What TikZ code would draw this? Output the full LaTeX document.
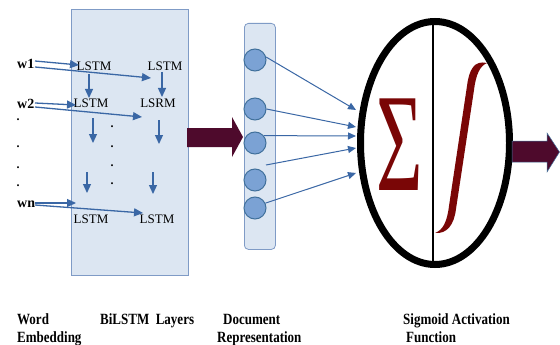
\documentclass[tikz,border=0pt]{standalone}
\usepackage{fontspec}
\setmainfont{Liberation Serif}
\usetikzlibrary{arrows.meta,shapes.geometric}
\definecolor{boxfill}{HTML}{DCE6F2}
\definecolor{boxline}{HTML}{7F9BC6}
\definecolor{arrowblue}{HTML}{3A67A5}
\definecolor{nodefill}{HTML}{7BA2D4}
\definecolor{nodeline}{HTML}{41719C}
\definecolor{darkmaroon}{HTML}{4E0A2C}
\definecolor{sigred}{HTML}{7A0606}
\tikzset{
  panel/.style={draw=boxline, fill=boxfill, line width=0.8pt, inner sep=0pt, anchor=north west},
  lstm/.style={font=\fontsize{13}{13}\selectfont, inner sep=0pt},
  word/.style={font=\bfseries\fontsize{14}{14}\selectfont, inner sep=0pt, anchor=base west},
  flow/.style={draw=arrowblue, line width=1.3pt, -{Triangle[length=9pt,width=8pt]}},
  feed/.style={draw=arrowblue, line width=1pt, -{Triangle[length=8pt,width=7pt]}},
  neuron/.style={circle, draw=nodeline, fill=nodefill, line width=1pt, minimum size=22pt, inner sep=0pt},
  caption/.style={font=\bfseries\fontsize{13}{13}\selectfont, inner sep=0pt, anchor=base west},
  dotmark/.style={font=\bfseries\fontsize{12}{12}\selectfont, inner sep=0pt, anchor=base},
  bigarrow/.style={fill=darkmaroon, draw=nodeline, line width=0.5pt},
}
\newcommand{\tallt}[1]{\scalebox{1}[1.2]{#1}}
\begin{document}
\begin{tikzpicture}[x=1pt,y=-1pt]
\useasboundingbox (0,0) rectangle (560,345);
\fill[white] (0,0) rectangle (560,345);

% BiLSTM panel
\node[panel, minimum width=117pt, minimum height=266pt] (bilstm) at (71,9) {};
% document panel
\node[panel, rounded corners=4pt, minimum width=31pt, minimum height=226pt] (doc) at (244,23) {};

% word labels
\node[word] (w1) at (17,69) {w1};
\node[word] (w2) at (17,108) {w2};
\node[word] (wn) at (17,207) {wn};
\foreach \yy [count=\i] in {121,147,168,186} \node[dotmark] (ld\i) at (18,\yy) {.};
\foreach \yy [count=\i] in {128,147,166,184} \node[dotmark] (md\i) at (112,\yy) {.};

% LSTM cells
\node[lstm] (l11) at (94,66) {LSTM};
\node[lstm] (l12) at (165,66) {LSTM};
\node[lstm] (l21) at (91,103) {LSTM};
\node[lstm] (l22) at (158,103) {LSRM};
\node[lstm] (l31) at (91,219) {LSTM};
\node[lstm] (l32) at (157,219) {LSTM};

% arrow end points
\coordinate (w1a) at (35,61);  \coordinate (w1b) at (35,67);
\coordinate (w2a) at (35,103); \coordinate (w2b) at (35,107);
\coordinate (wna) at (35,203); \coordinate (wnb) at (35,205);
\coordinate (t11) at (79,65);  \coordinate (t12) at (151,78);
\coordinate (t21) at (76,105); \coordinate (t22) at (142,117);
\coordinate (t31) at (76,203); \coordinate (t32) at (143,213);
\draw[flow] (w1a) -- (t11);
\draw[flow] (w1b) -- (t12);
\draw[flow] (w2a) -- (t21);
\draw[flow] (w2b) -- (t22);
\draw[flow] (wna) -- (t31);
\draw[flow] (wnb) -- (t32);

% vertical arrows
\coordinate (v1s) at (89,74);  \coordinate (v1e) at (89,98);
\coordinate (v2s) at (162,72); \coordinate (v2e) at (162,97);
\coordinate (v3s) at (93,118); \coordinate (v3e) at (93,143);
\coordinate (v4s) at (159,120);\coordinate (v4e) at (159,144);
\coordinate (v5s) at (87,172); \coordinate (v5e) at (87,193);
\coordinate (v6s) at (153,172);\coordinate (v6e) at (153,194);
\foreach \k in {1,...,6} \draw[flow] (v\k s) -- (v\k e);

% big arrow BiLSTM -> document
\fill[darkmaroon] (187,128) -- (232,128) -- (232,117) -- (243,137) -- (232,157) -- (232,147) -- (187,147) -- cycle;

% neurons
\node[neuron] (c1) at (255,60) {};
\node[neuron] (c2) at (255,109) {};
\node[neuron] (c3) at (255,143) {};
\node[neuron] (c4) at (255,180) {};
\node[neuron] (c5) at (255,208) {};

% sigmoid unit
\draw[line width=1.5pt] (433,25) -- (433,262);
\node[ellipse, draw=black, line width=7pt, minimum width=149pt, minimum height=243pt, inner sep=0pt] (sig) at (435,143) {};
\node[anchor=base, text=sigred, inner sep=0pt, font=\fontsize{140}{140}\selectfont] (sigma) at (400,190) {\scalebox{0.57}[1]{Σ}};
\fill[sigred] (487,63) .. controls (474,60) and (469,70) .. (467,86) -- (449,206)
   .. controls (447,222) and (443,230) .. (435,233)
   .. controls (447,234) and (454,225) .. (456,209) -- (474,90)
   .. controls (476,74) and (480,66) .. (487,63) -- cycle;

% feeds into sigmoid unit
\coordinate (s4) at (266,165);
\coordinate (f1) at (356,110);
\coordinate (f2) at (356,127);
\coordinate (f3) at (356,136);
\coordinate (f4) at (356,148);
\coordinate (f5) at (356,173);
\draw[feed] (c1.15) -- (f1);
\draw[feed] (c2.east) -- (f2);
\draw[feed] (c3.40) -- (f3);
\draw[feed] (s4) -- (f4);
\draw[feed] (c5.25) -- (f5);

% output arrow
\filldraw[bigarrow] (512,141) -- (547,141) -- (547,133) -- (559.5,152) -- (547,172) -- (547,162) -- (512,162) -- cycle;

% captions
\node[caption] (cap1) at (17,324) {\tallt{Word}};
\node[caption] (cap1b) at (17,342) {\tallt{Embedding}};
\node[caption] (cap2) at (100,324) {\tallt{BiLSTM\ \ Layers}};
\node[caption] (cap3) at (223,324) {\tallt{Document}};
\node[caption] (cap3b) at (217,342) {\tallt{Representation}};
\node[caption] (cap4) at (403,324) {\tallt{Sigmoid Activation}};
\node[caption] (cap4b) at (406,342) {\tallt{Function}};
\end{tikzpicture}
\end{document}
